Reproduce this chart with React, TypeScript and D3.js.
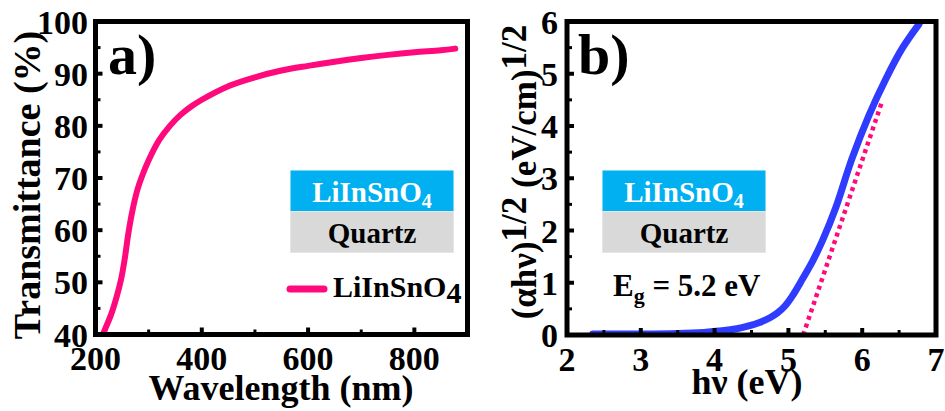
import React from "react";
import * as d3 from "d3";

// Panel a: optical transmittance of the LiInSnO4 film
const wavelengthNm = [213, 220, 230, 240, 248, 255, 262, 270, 279, 287, 300, 320, 340, 360, 380, 400, 450, 500, 550, 600, 650, 700, 750, 800, 850, 877];
const transmittancePct = [39.8, 41.5, 44.0, 47.3, 50.5, 54.5, 59.5, 64.0, 67.8, 70.2, 73.4, 77.3, 80.0, 82.1, 83.7, 85.0, 87.6, 89.3, 90.6, 91.5, 92.3, 93.0, 93.6, 94.1, 94.5, 94.8];

// Panel b: Tauc plot
const photonEnergyEv = [2.35, 3.0, 3.5, 3.85, 4.1, 4.3, 4.45, 4.61, 4.75, 4.85, 4.95, 5.05, 5.19, 5.33, 5.46, 5.64, 5.86, 6.09, 6.32, 6.54, 6.77];
const taucValue = [0.02, 0.02, 0.03, 0.05, 0.08, 0.12, 0.17, 0.24, 0.33, 0.42, 0.55, 0.74, 1.07, 1.42, 1.8, 2.43, 3.37, 4.2, 4.9, 5.48, 5.95];
const bandGapEv = 5.2;
const fitSlope = 4.18;
const fitEndEv = 6.26;

const ticksA_X = [200, 400, 600, 800];
const ticksA_Y = [40, 50, 60, 70, 80, 90, 100];
const ticksB_X = [2, 3, 4, 5, 6, 7];
const ticksB_Y = [0, 1, 2, 3, 4, 5, 6];

const FONT = "Liberation Serif";
const PINK = "#ff0a7c";
const BLUE = "#2f3cff";

function Frame({ x0, x1, y0, y1, xMajor, xMinor, yMajor, yMinor, sx, sy }: any) {
  const major = 7;
  const minor = 5;
  return (
    <g stroke="#000">
      {xMajor.map((v: number) => (
        <line key={"xM" + v} x1={sx(v)} x2={sx(v)} y1={y1} y2={y1 - major} strokeWidth={4} />
      ))}
      {xMinor.map((v: number) => (
        <line key={"xm" + v} x1={sx(v)} x2={sx(v)} y1={y1} y2={y1 - minor} strokeWidth={3} />
      ))}
      {yMajor.map((v: number) => (
        <line key={"yM" + v} x1={x0} x2={x0 + major} y1={sy(v)} y2={sy(v)} strokeWidth={4} />
      ))}
      {yMinor.map((v: number) => (
        <line key={"ym" + v} x1={x0} x2={x0 + minor} y1={sy(v)} y2={sy(v)} strokeWidth={3} />
      ))}
      <rect x={x0} y={y0} width={x1 - x0} height={y1 - y0} fill="none" strokeWidth={5} />
    </g>
  );
}

function Substrate({ x, y }: { x: number; y: number }) {
  const w = 163;
  return (
    <g>
      <rect x={x} y={y} width={w} height={41} fill="#00b0f0" />
      <rect x={x} y={y + 41} width={w} height={41} fill="#d9d9d9" stroke="#e6e6e6" strokeWidth={1} />
      <text x={x + w / 2} y={y + 31} textAnchor="middle" fontFamily={FONT} fontWeight="bold" fontSize={29} fill="#fff">
        LiInSnO<tspan fontSize={20} dy={6}>4</tspan>
      </text>
      <text x={x + w / 2} y={y + 72} textAnchor="middle" fontFamily={FONT} fontWeight="bold" fontSize={29} fill="#000">
        Quartz
      </text>
    </g>
  );
}

export default function App() {
  const W = 945;
  const H = 411;

  // panel a geometry
  const ax0 = 95.5, ax1 = 467.5, ay0 = 21.5, ay1 = 334.5;
  const sxA = d3.scaleLinear().domain([200, 900]).range([ax0, ax1]);
  const syA = d3.scaleLinear().domain([40, 100]).range([ay1, ay0]);
  const lineA = d3
    .line<number>()
    .x((_, i) => sxA(wavelengthNm[i]))
    .y((d) => syA(d))
    .curve(d3.curveCatmullRom.alpha(0.5));

  // panel b geometry
  const bx0 = 567, bx1 = 936, by0 = 21.5, by1 = 335;
  const sxB = d3.scaleLinear().domain([2, 7]).range([bx0, bx1]);
  const syB = d3.scaleLinear().domain([0, 6]).range([by1, by0]);
  const lineB = d3
    .line<number>()
    .x((_, i) => sxB(photonEnergyEv[i]))
    .y((d) => syB(d))
    .curve(d3.curveCatmullRom.alpha(0.5));
  const fitY = fitSlope * (fitEndEv - bandGapEv);

  const tickFont = { fontFamily: FONT, fontWeight: "bold" as const, fontSize: 34, fill: "#000" };
  const titleFont = { fontFamily: FONT, fontWeight: "bold" as const };

  return (
    <svg width={W} height={H} fontFamily={FONT} style={{ position: "absolute", left: 0, top: 0, background: "#fff" }}>
      <defs>
        <clipPath id="clipA">
          <rect x={ax0} y={ay0} width={ax1 - ax0} height={ay1 - ay0} />
        </clipPath>
        <clipPath id="clipB">
          <rect x={bx0} y={by0} width={bx1 - bx0} height={by1 - by0} />
        </clipPath>
      </defs>
      <rect width={W} height={H} fill="#fff" />

      {/* ---------- panel a ---------- */}
      <path d={lineA(transmittancePct) || ""} fill="none" stroke={PINK} strokeWidth={6} strokeLinecap="round" clipPath="url(#clipA)" />
      <Frame
        x0={ax0} x1={ax1} y0={ay0} y1={ay1}
        xMajor={ticksA_X.slice(1)} xMinor={[300, 500, 700]}
        yMajor={ticksA_Y.slice(1, -1)} yMinor={[45, 55, 65, 75, 85, 95]}
        sx={sxA} sy={syA}
      />
      {ticksA_X.map((v) => (
        <text key={v} x={sxA(v)} y={370} textAnchor="middle" {...tickFont}>{v}</text>
      ))}
      {ticksA_Y.map((v) => (
        <text key={v} x={88} y={syA(v) + 12} textAnchor="end" {...tickFont}>{v}</text>
      ))}
      <text x={281} y={400} textAnchor="middle" {...titleFont} fontSize={36}>Wavelength (nm)</text>
      <text transform={`translate(40,${185}) rotate(-90)`} textAnchor="middle" {...titleFont} fontSize={38}>
        Transmittance (%)
      </text>
      <text x={108} y={74} {...titleFont} fontSize={58}>a)</text>
      <Substrate x={290.5} y={170.5} />
      <line x1={290} x2={324} y1={289} y2={289} stroke={PINK} strokeWidth={7} strokeLinecap="round" />
      <text x={333} y={297} {...titleFont} fontSize={30}>
        LiInSnO<tspan dy={6}>4</tspan>
      </text>

      {/* ---------- panel b ---------- */}
      <g clipPath="url(#clipB)">
        <path d={lineB(taucValue) || ""} fill="none" stroke={BLUE} strokeWidth={7} strokeLinecap="round" />
        <line
          x1={sxB(bandGapEv)} y1={syB(0)} x2={sxB(fitEndEv)} y2={syB(fitY)}
          stroke={PINK} strokeWidth={4.5} strokeDasharray="4 4"
        />
      </g>
      <Frame
        x0={bx0} x1={bx1} y0={by0} y1={by1}
        xMajor={ticksB_X.slice(1, -1)} xMinor={[2.5, 3.5, 4.5, 5.5, 6.5]}
        yMajor={ticksB_Y.slice(1, -1)} yMinor={[0.5, 1.5, 2.5, 3.5, 4.5, 5.5]}
        sx={sxB} sy={syB}
      />
      {ticksB_X.map((v) => (
        <text key={v} x={sxB(v)} y={371} textAnchor="middle" {...tickFont}>{v}</text>
      ))}
      {ticksB_Y.map((v) => (
        <text key={v} x={558} y={syB(v) + 12} textAnchor="end" {...tickFont}>{v}</text>
      ))}
      <text x={747} y={394} textAnchor="middle" {...titleFont} fontSize={36}>hν (eV)</text>
      <text transform={`translate(536,${172}) rotate(-90)`} textAnchor="middle" {...titleFont} fontSize={35}>
        (αhν)<tspan dy={-10}>1/2</tspan><tspan dy={10}> (eV/cm)</tspan><tspan dy={-10}>1/2</tspan>
      </text>
      <text x={578} y={74} {...titleFont} fontSize={58}>b)</text>
      <Substrate x={602.5} y={170.5} />
      <text x={613} y={296} {...titleFont} fontSize={31}>
        E<tspan fontSize={22} dy={7}>g</tspan><tspan fontSize={31} dy={-7}> = 5.2 eV</tspan>
      </text>
    </svg>
  );
}
